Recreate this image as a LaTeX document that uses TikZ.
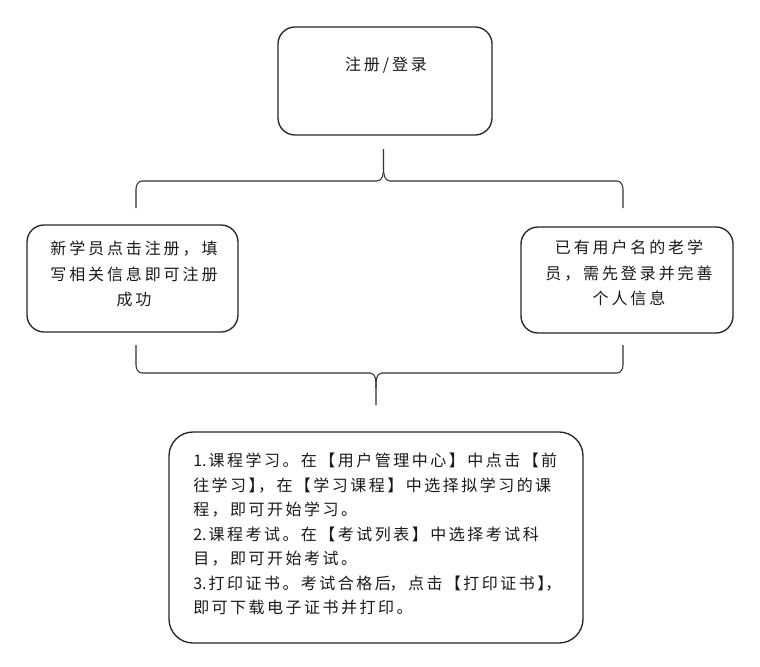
\documentclass[tikz,border=0pt]{standalone}
\usepackage{fontspec}
\newfontfamily\cjk[LetterSpace=18]{Noto Sans CJK SC}
\newfontfamily\cjkb[LetterSpace=15.5]{Noto Sans CJK SC}
\newfontfamily\cjkn{Noto Sans CJK SC}
\newcommand{\num}[1]{{\cjkn #1}\hspace{1.5pt}}
\begin{document}
\begin{tikzpicture}[x=0.75pt,y=-0.75pt,
  box/.style={draw=black!85,line width=1pt,rounded corners=12.75pt,inner sep=0pt},
  txt/.style={inner sep=0pt,font=\cjk\fontsize{12pt}{19pt}\selectfont,text=black!90},
  brace/.style={draw=black!80,line width=0.8pt}]
\useasboundingbox (0,0) rectangle (760,667);
% boxes
\node[box,minimum width=160.5pt,minimum height=81pt] (reg) at (385,81) {};
\node[box,minimum width=158.25pt,minimum height=80.25pt] (new) at (132.5,278.5) {};
\node[box,minimum width=159pt,minimum height=79.5pt] (old) at (627,280) {};
\node[box,rounded corners=18pt,minimum width=310.5pt,minimum height=158.25pt] (steps) at (376,537.5) {};
% texts
\node[txt] (regt) at (386,65) {注册/登录};
\node[txt,align=center] (newt) at (134,274) {新学员点击注册，填\\写相关信息即可注册\\成功};
\node[txt,align=center] (oldt) at (629,273) {已有用户名的老学\\员，需先登录并完善\\个人信息};
\node[txt,align=left,anchor=west,font=\cjkb\fontsize{12pt}{18.4pt}\selectfont] (stepst) at (193,534) {\num{1.}课程学习。在【用户管理中心】中点击【前\\往学习】\kern-5pt，在【学习课程】中选择拟学习的课\\程，即可开始学习。\\\num{2.}课程考试。在【考试列表】中选择考试科\\目，即可开始考试。\\\num{3.}打印证书。考试合格后\kern-1pt，点击【打印证书】\kern-6pt，\\即可下载电子证书并打印。};
% top brace
\coordinate (tl) at (136,208);
\coordinate (tr) at (623,208);
\coordinate (tt) at (383.5,149);
\draw[brace] (tl) -- (136,189) to[out=90,in=180] (142,181) -- (377,181) to[out=0,in=-90] (383.5,168) -- (tt);
\draw[brace] (383.5,168) to[out=-90,in=180] (390,181) -- (617,181) to[out=0,in=90] (tr |- 0,189) -- (tr);
% bottom brace
\coordinate (bl) at (136,345);
\coordinate (br) at (623,345);
\coordinate (bt) at (376,405);
\draw[brace] (bl) -- (136,365) to[out=-90,in=180] (142,373) -- (370,373) to[out=0,in=90] (376,388) -- (bt);
\draw[brace] (376,388) to[out=90,in=180] (382,373) -- (617,373) to[out=0,in=-90] (623,365) -- (br);
\end{tikzpicture}
\end{document}
